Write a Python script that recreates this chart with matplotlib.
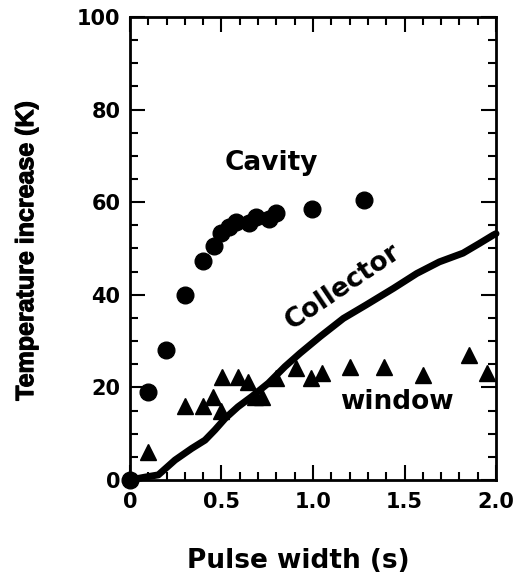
import matplotlib
matplotlib.use('Agg')
import matplotlib.pyplot as plt
import matplotlib.patheffects as pe
from matplotlib.ticker import MultipleLocator

# Cavity temperature (circles)
cavity_x = [0.0, 0.10, 0.195, 0.30, 0.40, 0.46, 0.50, 0.54, 0.58, 0.65, 0.69, 0.76, 0.80, 0.995, 1.28]
cavity_y = [0.0, 19.1, 28.0, 40.0, 47.2, 50.5, 53.3, 54.7, 55.8, 55.6, 56.7, 56.4, 57.7, 58.5, 60.5]

# window temperature (triangles)
window_x = [0.10, 0.30, 0.40, 0.455, 0.50, 0.505, 0.59, 0.645, 0.685, 0.72, 0.80, 0.905,
            0.99, 1.05, 1.20, 1.39, 1.60, 1.85, 1.95]
window_y = [6.1, 16.0, 16.0, 18.0, 14.8, 22.2, 22.2, 21.2, 18.0, 18.0, 22.0, 24.1,
            22.0, 23.0, 24.3, 24.3, 22.7, 27.0, 23.2]

# Collector temperature (continuous trace)
collector_x = [0.0, 0.08, 0.155, 0.246, 0.337, 0.41, 0.464, 0.52, 0.59, 0.665, 0.756, 0.847,
               0.93, 1.04, 1.166, 1.29, 1.44, 1.567, 1.69, 1.82, 1.91, 1.985, 2.0]
collector_y = [0.0, 0.6, 1.1, 4.3, 6.8, 8.6, 10.8, 13.3, 15.8, 18.0, 20.9, 24.5,
               27.4, 31.0, 34.9, 37.8, 41.4, 44.6, 47.1, 49.0, 51.1, 52.9, 53.2]

xticks = [0, 0.5, 1.0, 1.5, 2.0]
xtick_labels = ['0', '0.5', '1.0', '1.5', '2.0']
yticks = [0, 20, 40, 60, 80, 100]
ytick_labels = ['0', '20', '40', '60', '80', '100']

plt.rcParams['font.family'] = ['DejaVu Sans']
plt.rcParams['font.weight'] = 'bold'
plt.rcParams['axes.labelweight'] = 'bold'

fig = plt.figure(figsize=(5.28, 5.78), dpi=100)
ax = fig.add_axes([0.2462, 0.1696, 0.6932, 0.801])

ax.plot(collector_x, collector_y, color='black', lw=5, solid_capstyle='round', clip_on=False)
ax.plot(cavity_x, cavity_y, 'o', color='black', ms=12, clip_on=False)
ax.plot(window_x, window_y, '^', color='black', ms=12, clip_on=False)

ax.set_xlim(0, 2.0)
ax.set_ylim(0, 100)
ax.set_xticks(xticks)
ax.set_xticklabels(xtick_labels)
ax.set_yticks(yticks)
ax.set_yticklabels(ytick_labels)
ax.xaxis.set_minor_locator(MultipleLocator(0.1))
ax.yaxis.set_minor_locator(MultipleLocator(5))

ax.tick_params(which='both', direction='in', top=True, right=True, width=1.5, colors='black')
ax.tick_params(which='major', length=11, labelsize=15)
ax.tick_params(axis='x', which='major', pad=9)
ax.tick_params(axis='y', which='major', pad=7)
ax.tick_params(which='minor', length=6)
for sp in ax.spines.values():
    sp.set_linewidth(2)

ax.set_xlabel('Pulse width (s)', fontsize=19)
ax.xaxis.set_label_coords(0.459, -0.147)
ax.set_ylabel('Temperature increase (K)', fontsize=18)
ax.yaxis.label.set_family('Liberation Sans')
ax.yaxis.label.set_fontweight('bold')
ax.yaxis.label.set_path_effects([pe.withStroke(linewidth=0.8, foreground='black')])
ax.yaxis.set_label_coords(-0.251, 0.495)

ax.text(0.773, 68.5, 'Cavity', fontsize=19, fontweight='bold', ha='center', va='center')
ax.text(1.46, 16.8, 'window', fontsize=19, fontweight='bold', ha='center', va='center')
ax.text(1.164, 41.7, 'Collector', fontsize=19, fontweight='bold', ha='center', va='center',
        rotation=34, rotation_mode='anchor')

fig.savefig('out.png', dpi=100)
